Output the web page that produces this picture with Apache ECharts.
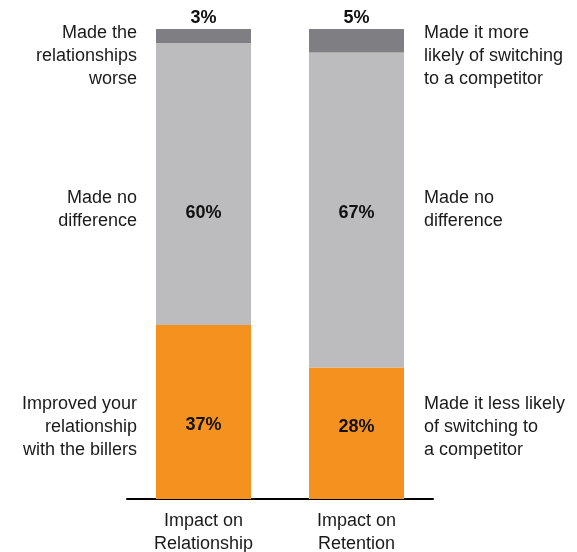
<!DOCTYPE html>
<html>
<head>
<meta charset="utf-8">
<script src="https://cdn.jsdelivr.net/npm/echarts@6/dist/echarts.min.js"></script>
<style>
  html, body { margin: 0; padding: 0; background: #fff; }
  #chart { width: 577px; height: 552px; }
</style>
</head>
<body>
<div id="chart"></div>
<script>
// Survey impact, share of respondents (%)
const categories = ['Impact on\nRelationship', 'Impact on\nRetention'];
const improved = [37, 28];
const noDifference = [60, 67];
const worse = [3, 5];

// Notes beside each bar (left bar / right bar), top to bottom
const leftNotes = ['Made the\nrelationships\nworse', 'Made no\ndifference', 'Improved your\nrelationship\nwith the billers'];
const rightNotes = ['Made it more\nlikely of switching\nto a competitor', 'Made no\ndifference', 'Made it less likely\nof switching to\na competitor'];

const FONT = '"Liberation Sans", Arial, Helvetica, sans-serif';
const TEXT = '#1a1a1a';

const chart = echarts.init(document.getElementById('chart'), null, { renderer: 'canvas' });

const pctLabel = {
  show: true,
  position: 'inside',
  formatter: p => p.value + '%',
  fontFamily: FONT,
  fontSize: 18,
  fontWeight: 'bold',
  color: '#111'
};

// Keep the in-bar percentages on a common row across both bars
const midOffsets = [[0, 29], [0, 3]];
const lowOffsets = [[0, 13], [0, -6]];

function items(values, offsets) {
  return values.map((v, i) => offsets ? { value: v, label: { offset: offsets[i] } } : v);
}

const noteRows = [56, 210, 427];
const graphics = [];
function addNotes(notes, x, align) {
  notes.forEach((t, i) => {
    graphics.push({
      type: 'text', x: x, y: noteRows[i],
      style: {
        text: t, font: '18px ' + FONT, fill: TEXT,
        align: align, verticalAlign: 'middle', lineHeight: 23
      }
    });
  });
}
addNotes(leftNotes, 137, 'right');
addNotes(rightNotes, 424, 'left');

chart.setOption({
  animation: false,
  grid: { left: 127, right: 144, top: 29, bottom: 53, outerBoundsMode: 'none', containLabel: false },
  xAxis: {
    type: 'category',
    data: categories,
    axisLine: { show: true, lineStyle: { color: '#000', width: 2 } },
    axisTick: { show: false },
    axisLabel: { fontFamily: FONT, fontSize: 18, lineHeight: 23, color: TEXT, margin: 11 }
  },
  yAxis: {
    type: 'value', min: 0, max: 100, show: false,
    splitLine: { show: false }
  },
  series: [
    {
      name: 'Improved', type: 'bar', stack: 'total', barWidth: 95,
      data: items(improved, lowOffsets),
      itemStyle: { color: '#F5921F' },
      label: pctLabel
    },
    {
      name: 'No difference', type: 'bar', stack: 'total', barWidth: 95,
      data: items(noDifference, midOffsets),
      itemStyle: { color: '#BCBCBE' },
      label: pctLabel
    },
    {
      name: 'Worse', type: 'bar', stack: 'total', barWidth: 95,
      data: items(worse),
      itemStyle: { color: '#7F7E82' },
      label: Object.assign({}, pctLabel, { position: 'top', distance: 2 })
    }
  ],
  graphic: graphics
});
</script>
</body>
</html>
